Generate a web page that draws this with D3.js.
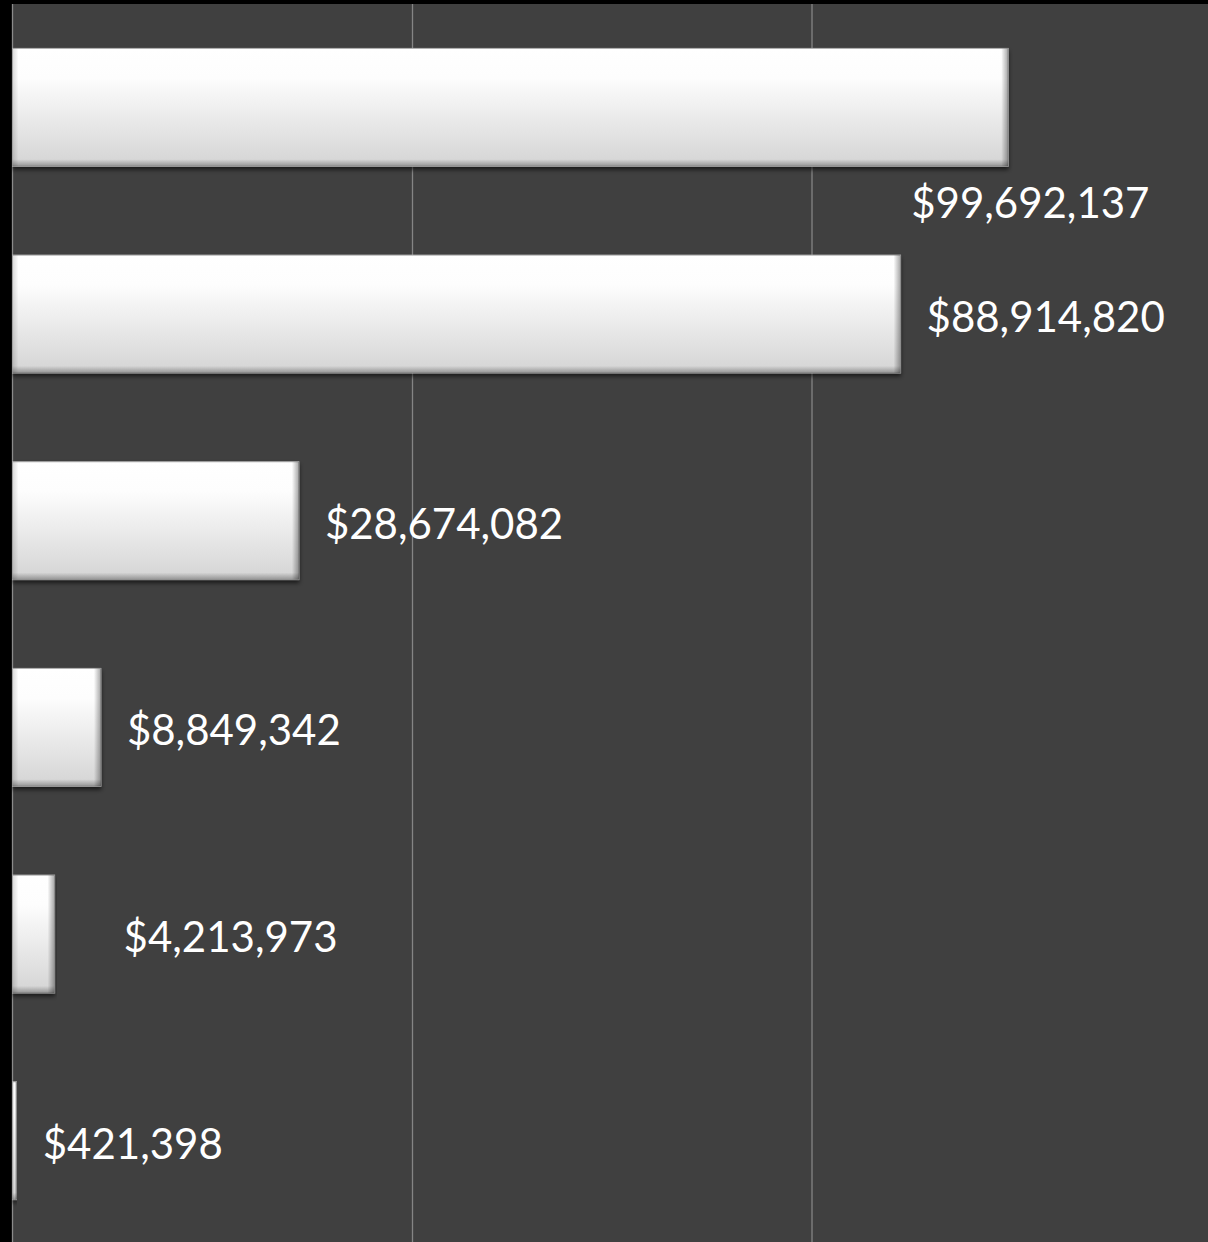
<!DOCTYPE html>
<html>
<head>
<meta charset="utf-8">
<script src="https://cdn.jsdelivr.net/npm/d3@7"></script>
<style>
  html, body { margin: 0; padding: 0; background: #000; }
  svg { display: block; }
</style>
</head>
<body>
<div class="myChart"></div>
<script>
// chart data
const categories = ["A", "B", "C", "D", "E", "F"];
const values = [99692137, 88914820, 28674082, 8849342, 4213973, 421398];
const xTicks = [0, 40000000, 80000000, 120000000];

const width = 1208, height = 1242;
const margin = {top: 4, right: 0, bottom: 0, left: 12};

const svg = d3.select('.myChart').append('svg')
    .attr('width', width).attr('height', height);

const defs = svg.append('defs');
const grad = defs.append('linearGradient').attr('id', 'barFill')
    .attr('x1', 0).attr('y1', 0).attr('x2', 0).attr('y2', 1);
grad.append('stop').attr('offset', '0%').attr('stop-color', '#ffffff');
grad.append('stop').attr('offset', '25%').attr('stop-color', '#fdfdfd');
grad.append('stop').attr('offset', '100%').attr('stop-color', '#d4d4d4');

const edgeR = defs.append('linearGradient').attr('id', 'edgeR')
    .attr('x1', 0).attr('y1', 0).attr('x2', 1).attr('y2', 0);
edgeR.append('stop').attr('offset', '0%').attr('stop-color', '#000').attr('stop-opacity', 0);
edgeR.append('stop').attr('offset', '100%').attr('stop-color', '#000').attr('stop-opacity', 0.35);

const edgeL = defs.append('linearGradient').attr('id', 'edgeL')
    .attr('x1', 0).attr('y1', 0).attr('x2', 1).attr('y2', 0);
edgeL.append('stop').attr('offset', '0%').attr('stop-color', '#000').attr('stop-opacity', 0.15);
edgeL.append('stop').attr('offset', '100%').attr('stop-color', '#000').attr('stop-opacity', 0);

const edgeB = defs.append('linearGradient').attr('id', 'edgeB')
    .attr('x1', 0).attr('y1', 0).attr('x2', 0).attr('y2', 1);
edgeB.append('stop').attr('offset', '0%').attr('stop-color', '#000').attr('stop-opacity', 0);
edgeB.append('stop').attr('offset', '100%').attr('stop-color', '#000').attr('stop-opacity', 0.3);

const shadow = defs.append('filter').attr('id', 'shadow')
    .attr('x', '-5%').attr('y', '-10%').attr('width', '110%').attr('height', '130%');
shadow.append('feDropShadow').attr('dx', 0).attr('dy', 3).attr('stdDeviation', 2)
    .attr('flood-color', '#000').attr('flood-opacity', 0.6);

// plot area
svg.append('rect')
    .attr('x', margin.left).attr('y', margin.top)
    .attr('width', width - margin.left).attr('height', height - margin.top)
    .attr('fill', '#404040');

const x = d3.scaleLinear().domain([0, 120000000]).range([margin.left + 0.5, 1211]);
const y = d3.scaleBand().domain(categories).range([margin.top, height + 2])
    .paddingInner(0.43).paddingOuter(0.215);

const g = svg.append('g');

g.append('g')
    .attr('class', 'grid')
    .attr('transform', 'translate(0,' + margin.top + ')')
    .call(d3.axisBottom(x).tickValues(xTicks.slice(1)).tickSize(height - margin.top).tickFormat(''))
    .call(s => s.select('.domain').remove())
    .call(s => s.selectAll('line').attr('stroke', '#858585').attr('stroke-width', 1.3));

g.append('line')
    .attr('x1', x(0)).attr('x2', x(0))
    .attr('y1', margin.top).attr('y2', height)
    .attr('stroke', '#8a8a8a').attr('stroke-width', 1.3);

const data = categories.map((c, i) => ({name: c, value: values[i]}));
const bw = y.bandwidth();

const bars = g.selectAll('.bar')
    .data(data)
    .enter().append('g')
    .attr('class', 'bar');

bars.append('rect')
    .attr('x', x(0))
    .attr('y', d => y(d.name))
    .attr('width', d => x(d.value) - x(0))
    .attr('height', bw)
    .attr('fill', 'url(#barFill)')
    .attr('stroke', '#b0b0b0')
    .attr('stroke-width', 1)
    .attr('filter', 'url(#shadow)');

bars.append('rect')
    .attr('x', d => x(d.value) - Math.min(7, (x(d.value) - x(0)) / 2))
    .attr('y', d => y(d.name))
    .attr('width', d => Math.min(7, (x(d.value) - x(0)) / 2))
    .attr('height', bw)
    .attr('fill', 'url(#edgeR)');

bars.append('rect')
    .attr('x', x(0))
    .attr('y', d => y(d.name))
    .attr('width', d => Math.min(6, (x(d.value) - x(0)) / 2))
    .attr('height', bw)
    .attr('fill', 'url(#edgeL)');

bars.append('rect')
    .attr('x', x(0))
    .attr('y', d => y(d.name) + bw - 7)
    .attr('width', d => x(d.value) - x(0))
    .attr('height', 7)
    .attr('fill', 'url(#edgeB)');

// label nudges (first label sits under its bar)
const fmt = d3.format('$,');
const nudge = {A: [-123, 0], E: [43, 0]};

g.selectAll('.label')
    .data(data)
    .enter().append('text')
    .attr('class', 'label')
    .attr('x', d => x(d.value) + 26 + (nudge[d.name] ? nudge[d.name][0] : 0))
    .attr('y', d => d.name === 'A' ? y(d.name) + bw + 52 : y(d.name) + bw / 2 + 18)
    .attr('fill', '#ffffff')
    .attr('font-family', 'Lato, "Open Sans", sans-serif')
    .attr('font-size', 42)
    .text(d => fmt(d.value));
</script>
</body>
</html>
